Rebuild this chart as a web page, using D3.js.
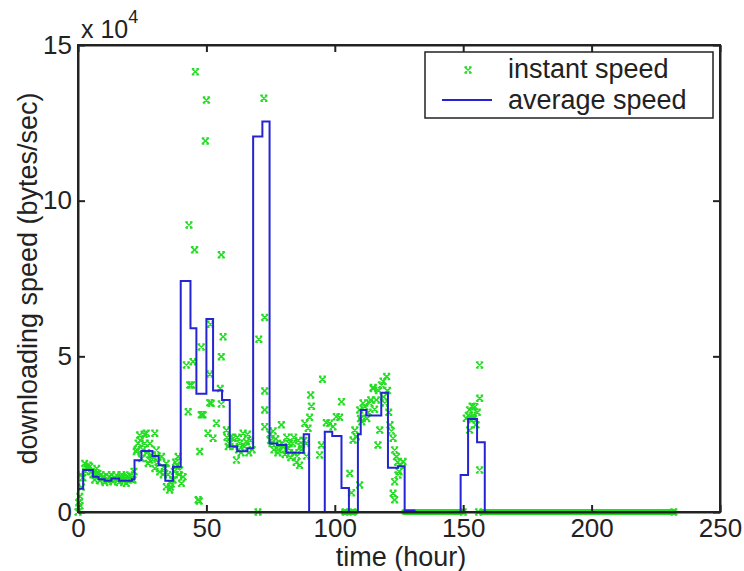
<!DOCTYPE html>
<meta charset="utf-8">
<style>
body { margin: 0; background: #fff; }
text { font-family: "Liberation Sans", Arial, sans-serif; fill: #222; }
.axis path, .axis line { stroke: #222; stroke-width: 2px; }
.axis text { font-size: 26px; }
</style>
<svg width="744" height="571"></svg>
<script src="https://cdn.jsdelivr.net/npm/d3@7"></script>
<script>

// average speed: step starts (hour) and level (bytes/sec) held until the next start
var avgTime = [0, 2, 5.8, 8, 10.4, 13, 16, 21, 22, 24.7, 29, 31.4, 34, 37, 40, 43.8, 46.1, 50, 52.6, 56.1, 59.1, 62, 66,
  68.2, 71.8, 74.6, 77.5, 81.1, 87.9, 90, 96.1, 99, 102.6, 105.5, 109, 110.1, 112.3, 118.1, 120.7, 124.6, 127.2, 131,
  149, 151.9, 155.4, 158.4, 232];
var avgSpeed = [7500, 13500, 11300, 10500, 10000, 10800, 10000, 10500, 16600, 19600, 18000, 15000, 10000, 14500, 74200, 59000, 38000, 62000, 39000, 36000, 21000, 19500, 20500,
  120600, 125400, 22000, 21500, 19000, 25000, 0, 25800, 24400, 7700, 0, 25000, 32800, 31000, 38300, 14200, 14700, 500, 0,
  11900, 29900, 22400, 0, 0];

// instant speed samples
var instTime = [0, 0.3, 0.7, 0.8, 1.0, 1.3, 1.9, 2.6, 3, 3.5, 4, 4.6, 5.2, 5.8, 6.5, 7, 7.3, 7.8, 8.5, 9, 9.7, 10, 10.5, 11.2, 11.8, 12.3, 13, 13.6, 14.2, 14.9,
  15.5, 16, 16.8, 17, 17.5, 18, 18.8, 19, 19.5, 20.1, 20.7, 21.4, 21.8,
  22.7, 23, 23.4, 24, 24.3, 24.7, 25.3, 25.8, 26, 26.6, 26.8, 27.3, 27.9, 28, 28.6, 29, 29.9, 29.9, 30.5, 30.8, 31.2, 31.8, 32.5, 33.2, 33.8, 34.4, 34.4,
  35, 35.7, 36, 36.3, 37, 37.5, 38, 38.5, 39, 39.3, 39.6, 40.3, 40.9,
  42.2, 42.9, 43.2, 43.5, 44.2, 44.8, 45.4, 45.7, 46.8, 47.2, 47.4, 48, 48, 48.7, 49.6, 50, 50.6, 51.3, 51.3, 51.6, 51.9, 52.6, 53.9, 55.4, 55.8, 55.8, 55.8,
  56.5, 57.8, 58, 58.5, 59, 59.5, 60.4, 61, 61.7, 62, 62.5, 63, 63.5, 64.3, 64.8, 65.6, 66, 66.5, 67.2, 67.8, 70.1, 70.4, 72.4, 72.7, 72.7, 72.7, 72.7,
  74.8, 75, 75.5, 76, 76.3, 77, 77.8, 78, 78.5, 79.2, 79.5, 80, 80.6, 81, 81.3, 82, 82.3, 82.8, 83.5, 84, 84.2, 85, 85.3, 85.8, 86.3, 86.8, 87, 88, 88.3,
  88.9, 89, 89.6, 90.2, 90.6, 90.9,
  94.1, 94.8, 95.2, 96.7, 98, 99.3, 100.6, 101.9, 102.6, 104, 105.8, 106.5, 107, 107.1, 107.8, 108.4, 109.7, 109.7, 110, 110.5, 111, 111.7, 112.5, 113, 113.5,
  114, 114.9, 115, 115.5, 116.2, 116.8, 117, 117.5, 118.2, 118.8, 119, 119.5, 120.2, 120.5, 121, 121.5, 122, 122.7, 122.7, 123.3, 123.3, 123.3, 124, 124.5,
  124.6, 125, 125.5, 126.6,
  150, 151.2, 152, 152.5, 152.5, 153.2, 153.5, 153.8, 154, 154.5, 155, 155.5, 156, 156.4, 156.4, 156.4, 232];
var instSpeed = [0, 3000, 5000, 2000, 12000, 8000, 11000, 15600, 13000, 14000, 15000, 14600, 13000, 12000, 10300, 12000, 14000, 12400, 10000, 12000, 11300, 11000, 9500, 10500, 10000, 11300, 12000, 9700, 11000, 11900,
  10500, 9500, 11000, 12000, 10300, 10000, 9200, 11500, 11000, 11900, 10500, 10300, 13000,
  19400, 20000, 22100, 24700, 23000, 17200, 20000, 25000, 22100, 25300, 19000, 15600, 16700, 22000, 18300, 17000, 25300, 14000, 19900, 18000, 16000, 12900, 17800, 12000, 14000, 15600, 8100,
  12000, 7100, 8000, 9000, 10300, 13000, 16000, 15000, 17800, 12000, 13500, 9200, 11300,
  47200, 32200, 92200, 40800, 40800, 48300, 84200, 141400, 3900, 3500, 19400, 53000, 31200, 31200, 119200, 132300, 25300, 44300, 35100, 60300, 34900, 23700, 28500, 39700, 82600, 49900, 34700,
  56300, 26300, 24000, 21000, 22000, 24000, 23700, 21000, 16700, 24000, 20000, 22100, 19000, 25300, 21000, 22600, 25000, 19000, 23000, 20000, 0, 55500, 132900, 62500, 38900, 32800, 27400,
  25000, 23000, 22000, 26000, 20000, 23500, 19000, 20000, 21500, 28000, 22000, 21000, 18500, 20000, 24000, 20500, 22000, 17500, 22000, 24000, 19000, 16000, 18000, 23000, 15000, 21000, 20000, 23000, 28500,
  22000, 18000, 26900, 30400, 37600, 34000,
  18300, 21500, 42600, 28700, 28500, 27400, 30600, 30400, 35400, 0, 12400, 6200, 0, 23100, 26300, 24200, 8700, 32800, 30000, 29000, 35000, 33800, 30000, 32000, 35000,
  36000, 39700, 40000, 33000, 36000, 21500, 39000, 26300, 40800, 42000, 37000, 35000, 43500, 39000, 32000, 28000, 26000, 23700, 6000, 19900, 9700, 3900, 17800, 16000,
  11900, 13000, 15000, 16200,
  0, 30100, 31000, 32800, 26300, 29600, 34000, 31000, 30000, 33800, 28000, 32000, 0, 47200, 36500, 13500, 0];

// stretches where the instant speed sits on zero (hour ranges)
var zeroStart = [103.5, 127, 157];
var zeroEnd = [108, 149.5, 232];

var xTicks = [0, 50, 100, 150, 200, 250];
var yTicks = [0, 50000, 100000, 150000];

var svg = d3.select("svg"),
    plotL = 78, plotR = 720, plotT = 45, plotB = 512;

var x = d3.scaleLinear().domain([0, 250]).range([plotL, plotR]);
var y = d3.scaleLinear().domain([0, 150000]).range([plotB, plotT]);

var green = "#22dd22", blue = "#2424d4";

// zero bands of instant speed markers
svg.append("g").selectAll("line")
  .data(zeroStart)
  .enter().append("line")
    .attr("x1", function(d) { return x(d); })
    .attr("x2", function(d, i) { return x(zeroEnd[i]); })
    .attr("y1", y(0)).attr("y2", y(0))
    .attr("stroke", green)
    .attr("stroke-width", 6)
    .attr("stroke-linecap", "round");

// instant speed markers
var marker = "M-3.5,-3L3.5,3M-3.5,3L3.5,-3M-3.5,-3H-1M1,-3H3.5M-3.5,3H-1M1,3H3.5";
svg.append("g").selectAll("path")
  .data(instTime)
  .enter().append("path")
    .attr("transform", function(d, i) { return "translate(" + x(d) + "," + y(instSpeed[i]) + ")"; })
    .attr("d", marker)
    .attr("fill", "none")
    .attr("stroke", green)
    .attr("stroke-width", 1.5);

// average speed step line
var avgPts = avgTime.map(function(t, i) { return [t, avgSpeed[i]]; });
var line = d3.line()
    .x(function(d) { return x(d[0]); })
    .y(function(d) { return y(d[1]); })
    .curve(d3.curveStepAfter);

svg.append("path")
    .datum(avgPts)
    .attr("d", line)
    .attr("fill", "none")
    .attr("stroke", blue)
    .attr("stroke-width", 2);

// axes with inward ticks on all four sides
svg.append("g").attr("class", "axis")
    .attr("transform", "translate(0," + plotB + ")")
    .call(d3.axisBottom(x).tickValues(xTicks).tickSizeInner(-7).tickSizeOuter(0).tickPadding(7));
svg.append("g").attr("class", "axis")
    .attr("transform", "translate(0," + plotT + ")")
    .call(d3.axisTop(x).tickValues(xTicks).tickSizeInner(-7).tickSizeOuter(0).tickFormat(""));
svg.append("g").attr("class", "axis")
    .attr("transform", "translate(" + plotL + ",0)")
    .call(d3.axisLeft(y).tickValues(yTicks).tickSizeInner(-7).tickSizeOuter(0).tickPadding(6)
      .tickFormat(function(d) { return d / 10000; }));
svg.append("g").attr("class", "axis")
    .attr("transform", "translate(" + plotR + ",0)")
    .call(d3.axisRight(y).tickValues(yTicks).tickSizeInner(-7).tickSizeOuter(0).tickFormat(""));

svg.selectAll(".axis text").attr("fill", "#222");

svg.append("rect")
    .attr("x", plotL).attr("y", plotT)
    .attr("width", plotR - plotL).attr("height", plotB - plotT)
    .attr("fill", "none").attr("stroke", "#222").attr("stroke-width", 2);

// exponent
var expo = svg.append("text").attr("x", 81).attr("y", 38).style("font-size", "25px");
expo.append("tspan").text("x 10");
expo.append("tspan").attr("dy", -15).style("font-size", "18px").text("4");

// axis labels
svg.append("text")
    .attr("x", (plotL + plotR) / 2 + 2).attr("y", 566)
    .attr("text-anchor", "middle")
    .style("font-size", "27px")
    .text("time (hour)");

svg.append("text")
    .attr("transform", "translate(37," + (plotT + plotB) / 2 + ")rotate(-90)")
    .attr("text-anchor", "middle")
    .style("font-size", "27px")
    .text("downloading speed (bytes/sec)");

// legend
var lg = svg.append("g").attr("transform", "translate(425,52)");
lg.append("rect").attr("width", 288).attr("height", 66)
    .attr("fill", "#fff").attr("stroke", "#222").attr("stroke-width", 1.5);
lg.append("path").attr("transform", "translate(43,18)").attr("d", marker)
    .attr("fill", "none").attr("stroke", green).attr("stroke-width", 1.5);
lg.append("line").attr("x1", 17).attr("x2", 67).attr("y1", 48).attr("y2", 48)
    .attr("stroke", blue).attr("stroke-width", 2);
lg.append("text").attr("x", 83).attr("y", 26).style("font-size", "27px").text("instant speed");
lg.append("text").attr("x", 83).attr("y", 57).style("font-size", "27px").text("average speed");

</script>
